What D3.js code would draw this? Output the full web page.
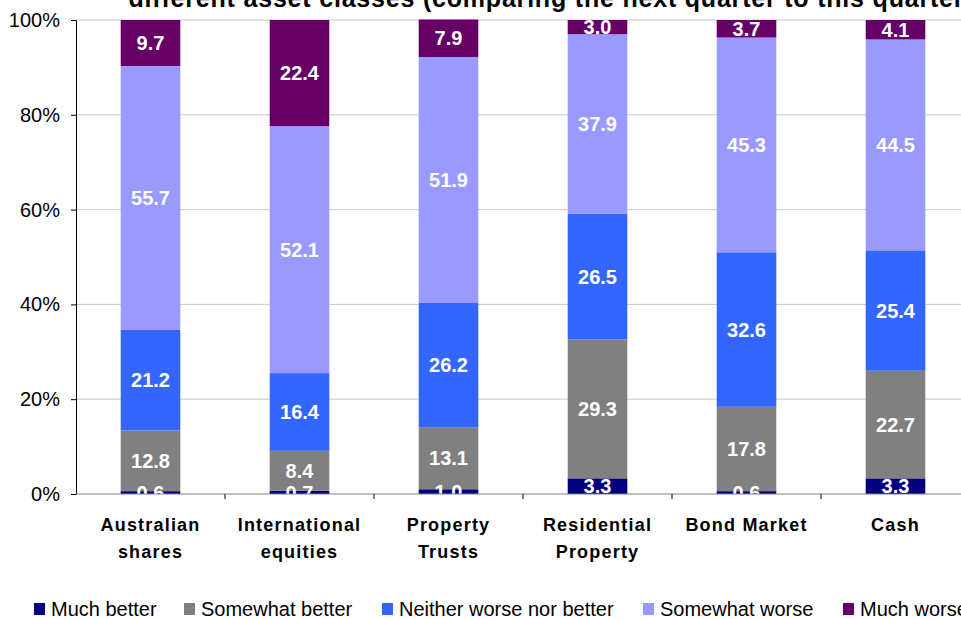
<!DOCTYPE html>
<html>
<head>
<meta charset="utf-8">
<script src="https://cdn.jsdelivr.net/npm/d3@7"></script>
<style>
  body { margin: 0; background: #fff; }
  svg { display: block; font-family: "Liberation Sans", Arial, sans-serif; }
</style>
</head>
<body>
<svg id="chart" width="961" height="619"></svg>
<script>
// Stacked 100% bars: expected performance by asset class

const categories = [
  ["Australian", "shares"],
  ["International", "equities"],
  ["Property", "Trusts"],
  ["Residential", "Property"],
  ["Bond Market"],
  ["Cash"],
];

const seriesNames = [
  "Much better",
  "Somewhat better",
  "Neither worse nor better",
  "Somewhat worse",
  "Much worse",
];

const muchBetter = [0.6, 0.7, 1.0, 3.3, 0.6, 3.3];
const somewhatBetter = [12.8, 8.4, 13.1, 29.3, 17.8, 22.7];
const neither = [21.2, 16.4, 26.2, 26.5, 32.6, 25.4];
const somewhatWorse = [55.7, 52.1, 51.9, 37.9, 45.3, 44.5];
const muchWorse = [9.7, 22.4, 7.9, 3.0, 3.7, 4.1];

const yTicks = [0, 20, 40, 60, 80, 100];

const colors = ["#000080", "#808080", "#3366ff", "#9999ff", "#660066"];

const margin = { left: 76, top: 20, right: 970, bottom: 494 };

const svg = d3.select("#chart");

const keys = categories.map((c) => c.join(" "));
const rows = keys.map((k, i) => ({
  key: k,
  s0: muchBetter[i],
  s1: somewhatBetter[i],
  s2: neither[i],
  s3: somewhatWorse[i],
  s4: muchWorse[i],
}));

const layers = d3.stack().keys(["s0", "s1", "s2", "s3", "s4"])(rows);

const x = d3
  .scaleBand()
  .domain(keys)
  .range([margin.left, margin.right])
  .paddingInner(0.6)
  .paddingOuter(0.3);

const y = d3.scaleLinear().domain([0, 100]).range([margin.bottom, margin.top]);

// gridlines
svg
  .append("g")
  .selectAll("line")
  .data(yTicks.filter((t) => t > 0))
  .enter()
  .append("line")
  .attr("x1", margin.left)
  .attr("x2", margin.right)
  .attr("y1", (d) => y(d))
  .attr("y2", (d) => y(d))
  .attr("stroke", "#c8c8c8")
  .attr("stroke-width", 1);

svg
  .append("defs")
  .append("clipPath")
  .attr("id", "plotClip")
  .append("rect")
  .attr("x", margin.left)
  .attr("y", margin.top)
  .attr("width", margin.right - margin.left)
  .attr("height", margin.bottom - margin.top);

// bars
const layerG = svg
  .append("g")
  .selectAll("g")
  .data(layers)
  .enter()
  .append("g")
  .attr("fill", (d, i) => colors[i]);

layerG
  .selectAll("rect")
  .data((d) => d)
  .enter()
  .append("rect")
  .attr("x", (d) => x(d.data.key))
  .attr("width", x.bandwidth())
  .attr("y", (d) => y(d[1]))
  .attr("height", (d) => y(d[0]) - y(d[1]));

// value labels
const labelG = svg.append("g").attr("clip-path", "url(#plotClip)");
layers.forEach((layer) => {
  labelG
    .append("g")
    .selectAll("text")
    .data(layer)
    .enter()
    .append("text")
    .attr("x", (d) => x(d.data.key) + x.bandwidth() / 2)
    .attr("y", (d) => y((d[0] + d[1]) / 2))
    .attr("dy", "0.36em")
    .attr("text-anchor", "middle")
    .attr("fill", "#fff")
    .attr("font-weight", "bold")
    .attr("font-size", 20)
    .text((d) => (d[1] - d[0]).toFixed(1));
});

// y axis
const yAxis = svg
  .append("g")
  .attr("transform", `translate(${margin.left},0)`)
  .call(
    d3
      .axisLeft(y)
      .tickValues(yTicks)
      .tickSize(5)
      .tickPadding(11)
      .tickFormat((d) => d + "%")
  );
yAxis.select(".domain").attr("stroke", "#000");
yAxis.selectAll(".tick line").attr("stroke", "#000");
yAxis
  .selectAll(".tick text")
  .attr("font-size", 20)
  .attr("fill", "#000")
  .attr("font-family", "Liberation Sans, Arial, sans-serif");

// x axis line and boundary ticks
svg
  .append("line")
  .attr("x1", margin.left)
  .attr("x2", margin.right)
  .attr("y1", margin.bottom)
  .attr("y2", margin.bottom)
  .attr("stroke", "#808080");

const step = x.step();
svg
  .append("g")
  .selectAll("line")
  .data(keys)
  .enter()
  .append("line")
  .attr("x1", (d) => x(d) + step * 0.7)
  .attr("x2", (d) => x(d) + step * 0.7)
  .attr("y1", margin.bottom)
  .attr("y2", margin.bottom + 5)
  .attr("stroke", "#000");

// category labels
const catText = svg
  .append("g")
  .selectAll("text")
  .data(categories)
  .enter()
  .append("text")
  .attr("x", (d, i) => x(keys[i]) + x.bandwidth() / 2)
  .attr("y", 531)
  .attr("text-anchor", "middle")
  .attr("font-weight", "bold")
  .attr("font-size", 18)
  .attr("letter-spacing", 1.2)
  .attr("fill", "#000");

catText
  .selectAll("tspan")
  .data((d) => d)
  .enter()
  .append("tspan")
  .attr("x", function () {
    return d3.select(this.parentNode).attr("x");
  })
  .attr("dy", (d, i) => (i === 0 ? 0 : 27))
  .text((d) => d);

// title (its upper part is cut by the frame in the original)
svg
  .append("text")
  .attr("x", 551)
  .attr("y", 7)
  .attr("text-anchor", "middle")
  .attr("font-weight", "bold")
  .attr("font-size", 25)
  .attr("letter-spacing", 0.8)
  .attr("fill", "#000")
  .text("different asset classes (comparing the next quarter to this quarter)");

// legend
const legendX = [34, 184, 382, 643, 843];
const legend = svg
  .append("g")
  .selectAll("g")
  .data(seriesNames)
  .enter()
  .append("g")
  .attr("transform", (d, i) => `translate(${legendX[i]}, 603)`);

legend
  .append("rect")
  .attr("width", 11)
  .attr("height", 12)
  .attr("fill", (d, i) => colors[i]);

legend
  .append("text")
  .attr("x", 17)
  .attr("y", 13)
  .attr("font-size", 20)
  .attr("fill", "#000")
  .text((d) => d);
</script>
</body>
</html>
